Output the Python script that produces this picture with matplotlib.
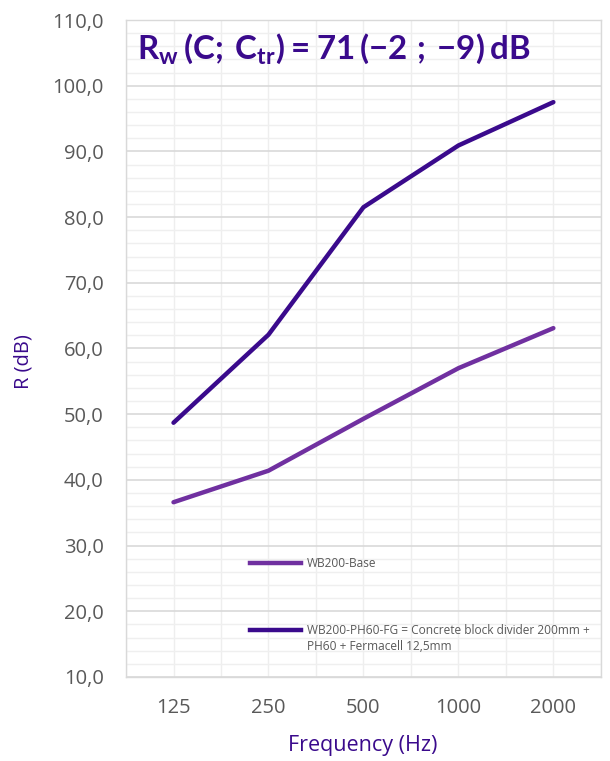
import numpy as np
import matplotlib.pyplot as plt
from matplotlib.lines import Line2D
from matplotlib.ticker import MultipleLocator, FuncFormatter

# data
frequencies = ["125", "250", "500", "1000", "2000"]
base_values = [36.6, 41.4, 49.3, 57.0, 63.1]
fg_values = [48.7, 62.1, 81.5, 90.9, 97.5]
base_label = "WB200-Base"
fg_label_lines = ["WB200-PH60-FG = Concrete block divider 200mm +",
                  "PH60 + Fermacell 12,5mm"]
title_text = r"$\mathbf{R_{w}\,(C;\,C_{tr})=71\,({-}2\;;\,{-}9)\,dB}$"

dark_purple = "#3a0a8c"
mid_purple = "#7030a0"
tick_grey = "#595959"

plt.rcParams["font.family"] = ["Open Sans", "DejaVu Sans"]
plt.rcParams["mathtext.fontset"] = "custom"
plt.rcParams["mathtext.bf"] = "Lato:bold"
plt.rcParams["mathtext.rm"] = "Lato:bold"

fig = plt.figure(figsize=(6.10, 7.61), dpi=100)
ax = fig.add_axes([0.2066, 0.1104, 0.7784, 0.8633])

x = np.arange(len(frequencies))
ax.plot(x, base_values, color=mid_purple, lw=3.2, solid_capstyle="round", zorder=3)
ax.plot(x, fg_values, color=dark_purple, lw=3.2, solid_capstyle="round", zorder=3)

ax.set_xlim(-0.5, len(frequencies) - 0.5)
ax.set_ylim(10, 110)
ax.set_xticks(x)
ax.set_xticklabels(frequencies)
ax.xaxis.set_minor_locator(MultipleLocator(0.5))
ax.yaxis.set_major_locator(MultipleLocator(10))
ax.yaxis.set_minor_locator(MultipleLocator(2))
ax.yaxis.set_major_formatter(FuncFormatter(lambda v, p: f"{v:.1f}".replace(".", ",")))

ax.grid(which="major", axis="y", color="#d9d9d9", lw=1.2, zorder=0)
ax.grid(which="minor", axis="y", color="#efefef", lw=1.0, zorder=0)
ax.grid(which="both", axis="x", color="#eeeeee", lw=1.0, zorder=0)
ax.set_axisbelow(True)

ax.tick_params(which="both", length=0)
ax.tick_params(axis="y", labelsize=14.5, labelcolor=tick_grey, pad=16)
ax.tick_params(axis="x", labelsize=14.5, labelcolor=tick_grey, pad=15)
for s in ax.spines.values():
    s.set_color("#d9d9d9")
    s.set_linewidth(1.0)

fig.text(24 / 610, 1 - 362 / 761, "R (dB)", rotation=90, color=dark_purple,
         fontsize=14.5, ha="center", va="center")
fig.text(363 / 610, 1 - 745 / 761, "Frequency (Hz)", color=dark_purple,
         fontsize=15.5, ha="center", va="center")

# two separate legends so the entries sit where the reference has them
leg_kw = dict(frameon=False, fontsize=8.6, labelcolor=tick_grey, handlelength=4.3,
              handletextpad=0.45, labelspacing=0.25, borderpad=0, borderaxespad=0)
leg1 = ax.legend([Line2D([], [], color=mid_purple, lw=3.2)], [base_label],
                 loc="center left", bbox_to_anchor=((250 - 126) / 475, (677 - 564) / 657),
                 **leg_kw)
ax.add_artist(leg1)
ax.legend([Line2D([], [], color=dark_purple, lw=3.2), Line2D([], [], alpha=0)],
          fg_label_lines, loc="upper left",
          bbox_to_anchor=((250 - 126) / 475, (677 - 624) / 657), **leg_kw)

fig.text(137 / 610, 1 - 50 / 761, title_text, fontsize=23.8, color=dark_purple,
         ha="left", va="center")

fig.savefig("out.png", dpi=100, facecolor="white")
